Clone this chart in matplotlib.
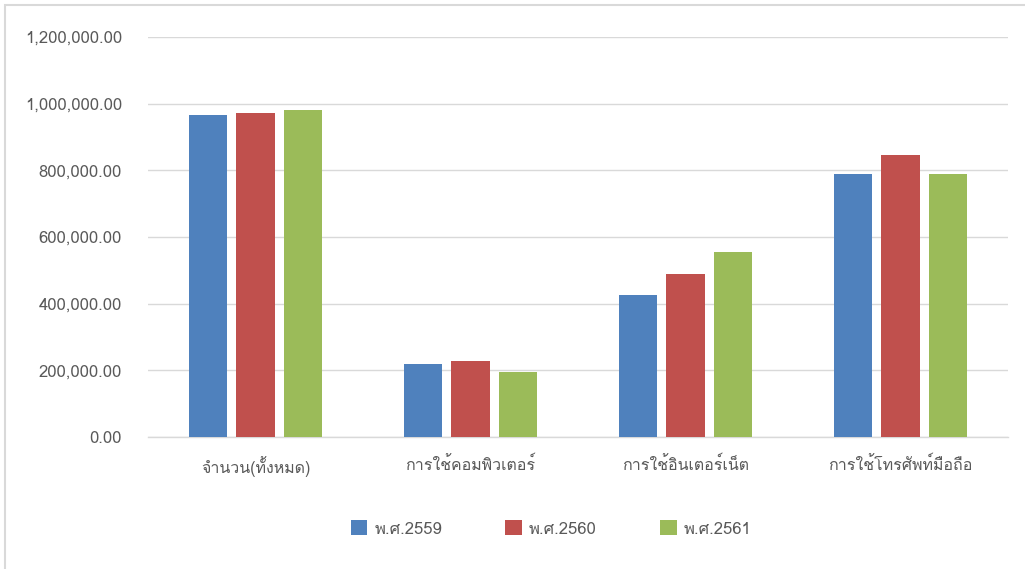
import matplotlib
matplotlib.use('Agg')
import matplotlib.pyplot as plt
from matplotlib import font_manager
from matplotlib.ft2font import FT2Font
from matplotlib.ticker import FuncFormatter
import numpy as np

# Data
categories = ['จำนวน(ทั้งหมด)', 'การใช้คอมพิวเตอร์', 'การใช้อินเตอร์เน็ต', 'การใช้โทรศัพท์มือถือ']
years = ['พ.ศ.2559', 'พ.ศ.2560', 'พ.ศ.2561']
values_2559 = [966000, 219000, 425000, 789000]
values_2560 = [973000, 229000, 490000, 845000]
values_2561 = [980000, 194000, 554000, 788000]
colors = ['#4f81bd', '#c0504d', '#9bbb59']


# Look for an installed font that can draw Thai
def find_thai_font():
    for f in font_manager.fontManager.ttflist:
        try:
            ft = FT2Font(f.fname)
            if 0x0E01 in ft.get_charmap():
                return f.name
        except Exception:
            continue
    return None


thai = find_thai_font()
families = ([thai] if thai else []) + ['DejaVu Sans']
plt.rcParams['font.family'] = families

text_color = '#595959'
grid_color = '#d9d9d9'

fig = plt.figure(figsize=(10.25, 5.69), dpi=100)
ax = fig.add_axes([148 / 1025, 1 - 437 / 569, 860 / 1025, 400 / 569])

x = np.arange(len(categories))
step = 0.221
width = 0.177
series = [values_2559, values_2560, values_2561]
for i, (vals, year, c) in enumerate(zip(series, years, colors)):
    ax.bar(x + (i - 1) * step, vals, width, color=c, label=year, zorder=3)

ax.set_xlim(-0.5, len(categories) - 0.5)
ax.set_ylim(0, 1200000)
ax.set_yticks(np.arange(0, 1200001, 200000))
ax.yaxis.set_major_formatter(FuncFormatter(lambda v, p: f'{v:,.2f}'))
ax.set_xticks(x)
ax.set_xticklabels(categories)

ax.grid(axis='y', color=grid_color, linewidth=1, zorder=0)
for s in ['top', 'right', 'left']:
    ax.spines[s].set_visible(False)
ax.spines['bottom'].set_color(grid_color)
ax.spines['bottom'].set_linewidth(1)
ax.tick_params(axis='both', length=0, colors=text_color)
ax.tick_params(axis='y', pad=18.7, labelsize=12)
ax.tick_params(axis='x', pad=14, labelsize=11.5)

leg = fig.legend(loc='center', bbox_to_anchor=(551 / 1025, 1 - 529 / 569), ncol=3,
                 frameon=False, fontsize=12, handlelength=1.0, handleheight=1.0,
                 columnspacing=3.8, handletextpad=0.42)
for t in leg.get_texts():
    t.set_color(text_color)

# light outer frame of the chart area
fig.patches.append(plt.Rectangle((5 / 1025, -0.01), 1.02, 1 - 5 / 569 + 0.01,
                                 transform=fig.transFigure, fill=False,
                                 edgecolor='#d9d9d9', linewidth=1.5))

fig.savefig('out.png', dpi=100)
